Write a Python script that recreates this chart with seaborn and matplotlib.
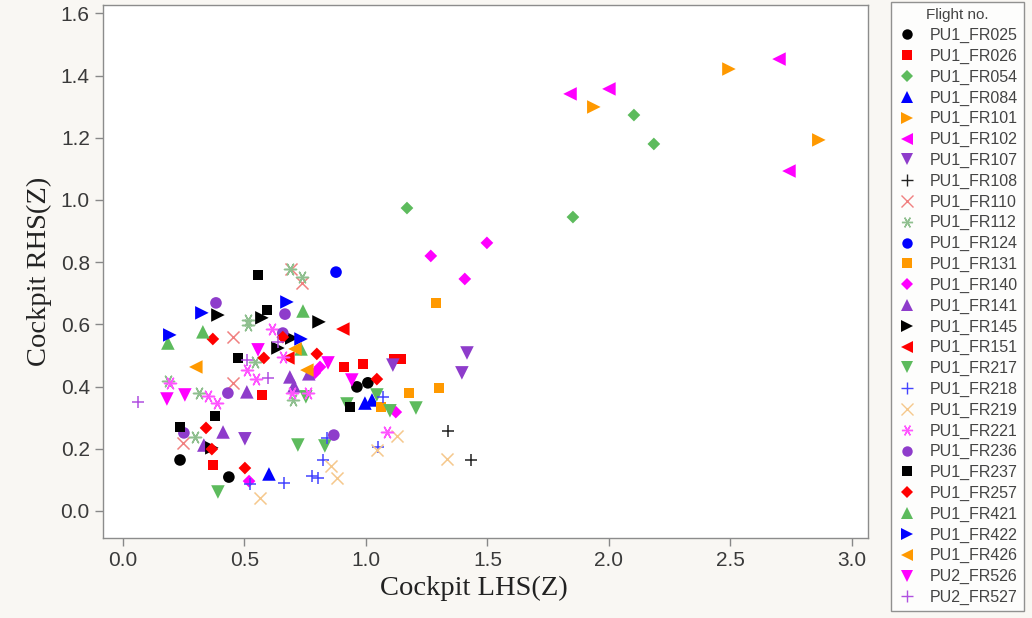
import matplotlib
matplotlib.use("Agg")
import matplotlib.pyplot as plt
import seaborn as sns
import pandas as pd
from matplotlib.lines import Line2D

# ---------------- data ----------------
FR025_x = [0.235, 0.436, 0.963, 1.008]
FR025_y = [0.164, 0.109, 0.399, 0.412]
FR026_x = [0.370, 0.572, 0.909, 0.988, 1.115, 1.144]
FR026_y = [0.148, 0.373, 0.463, 0.473, 0.489, 0.489]
FR054_x = [1.169, 1.852, 2.103, 2.185]
FR054_y = [0.974, 0.945, 1.273, 1.180]
FR084_x = [0.601, 0.996, 1.025]
FR084_y = [0.119, 0.347, 0.357]
FR101_x = [1.938, 2.494, 2.864]
FR101_y = [1.299, 1.421, 1.193]
FR102_x = [1.840, 2.000, 2.700, 2.741]
FR102_y = [1.341, 1.357, 1.453, 1.093]
FR107_x = [0.502, 1.111, 1.416, 1.395]
FR107_y = [0.232, 0.469, 0.508, 0.444]
FR108_x = [1.337, 1.432]
FR108_y = [0.257, 0.164]
FR110_x = [0.453, 0.453, 0.247, 0.691, 0.737]
FR110_y = [0.559, 0.412, 0.219, 0.778, 0.733]
FR112_x = [0.514, 0.687, 0.737, 0.296, 0.185, 0.313, 0.514, 0.543, 0.700]
FR112_y = [0.614, 0.778, 0.752, 0.238, 0.418, 0.379, 0.598, 0.479, 0.357]
FR124_x = [0.877]
FR124_y = [0.768]
FR131_x = [1.288, 1.177, 1.300, 1.062]
FR131_y = [0.669, 0.379, 0.395, 0.334]
FR140_x = [1.267, 1.498, 1.407, 1.123, 0.519, 0.811, 0.790]
FR140_y = [0.820, 0.862, 0.746, 0.318, 0.096, 0.463, 0.444]
FR141_x = [0.510, 0.412, 0.333, 0.687, 0.704, 0.765]
FR141_y = [0.383, 0.254, 0.212, 0.431, 0.402, 0.441]
FR145_x = [0.391, 0.572, 0.807, 0.695, 0.638, 0.366]
FR145_y = [0.630, 0.621, 0.608, 0.556, 0.524, 0.203]
FR151_x = [0.905, 0.679]
FR151_y = [0.585, 0.492]
FR217_x = [0.391, 0.720, 0.831, 0.753, 0.922, 1.045, 1.099, 1.206]
FR217_y = [0.061, 0.212, 0.209, 0.367, 0.344, 0.373, 0.322, 0.331]
FR218_x = [0.663, 0.778, 0.802, 0.823, 0.840, 1.070, 1.049, 0.523]
FR218_y = [0.090, 0.113, 0.106, 0.164, 0.235, 0.367, 0.206, 0.087]
FR219_x = [0.564, 0.856, 0.881, 1.128, 1.045, 1.333]
FR219_y = [0.042, 0.145, 0.106, 0.241, 0.196, 0.167]
FR221_x = [1.086, 0.350, 0.510, 0.613, 0.547, 0.193, 0.387, 0.658, 0.695, 0.761]
FR221_y = [0.254, 0.370, 0.453, 0.585, 0.424, 0.412, 0.347, 0.495, 0.379, 0.379]
FR236_x = [0.383, 0.667, 0.658, 0.432, 0.251, 0.868]
FR236_y = [0.669, 0.633, 0.572, 0.379, 0.251, 0.244]
FR237_x = [0.556, 0.593, 0.473, 0.379, 0.235, 0.934]
FR237_y = [0.759, 0.646, 0.492, 0.305, 0.270, 0.334]
FR257_x = [0.370, 0.580, 0.342, 0.366, 0.502, 0.658, 0.798, 1.045]
FR257_y = [0.553, 0.492, 0.267, 0.199, 0.138, 0.559, 0.505, 0.424]
FR421_x = [0.185, 0.329, 0.741, 0.733]
FR421_y = [0.540, 0.576, 0.643, 0.521]
FR422_x = [0.193, 0.325, 0.675, 0.733]
FR422_y = [0.566, 0.637, 0.672, 0.553]
FR426_x = [0.300, 0.708, 0.757]
FR426_y = [0.463, 0.521, 0.453]
FR526_x = [0.556, 0.181, 0.255, 0.844, 0.942]
FR526_y = [0.518, 0.360, 0.373, 0.476, 0.421]
FR527_x = [0.062, 0.510, 0.597, 0.638]
FR527_y = [0.350, 0.486, 0.428, 0.543]

flights = ["PU1_FR025", "PU1_FR026", "PU1_FR054", "PU1_FR084", "PU1_FR101",
           "PU1_FR102", "PU1_FR107", "PU1_FR108", "PU1_FR110", "PU1_FR112",
           "PU1_FR124", "PU1_FR131", "PU1_FR140", "PU1_FR141", "PU1_FR145",
           "PU1_FR151", "PU1_FR217", "PU1_FR218", "PU1_FR219", "PU1_FR221",
           "PU1_FR236", "PU1_FR237", "PU1_FR257", "PU1_FR421", "PU1_FR422",
           "PU1_FR426", "PU2_FR526", "PU2_FR527"]
xs = [FR025_x, FR026_x, FR054_x, FR084_x, FR101_x, FR102_x, FR107_x, FR108_x,
      FR110_x, FR112_x, FR124_x, FR131_x, FR140_x, FR141_x, FR145_x, FR151_x,
      FR217_x, FR218_x, FR219_x, FR221_x, FR236_x, FR237_x, FR257_x, FR421_x,
      FR422_x, FR426_x, FR526_x, FR527_x]
ys = [FR025_y, FR026_y, FR054_y, FR084_y, FR101_y, FR102_y, FR107_y, FR108_y,
      FR110_y, FR112_y, FR124_y, FR131_y, FR140_y, FR141_y, FR145_y, FR151_y,
      FR217_y, FR218_y, FR219_y, FR221_y, FR236_y, FR237_y, FR257_y, FR421_y,
      FR422_y, FR426_y, FR526_y, FR527_y]

# ---------------- styles ----------------
BLACK, RED, GREEN, BLUE = "#000000", "#ff0000", "#5dbb5d", "#0000ff"
ORANGE, MAGENTA, PURPLE = "#ff9900", "#ff00ff", "#8e3ccb"
ASTER = (6, 2, 90)
styles = [
    ("o", BLACK, 70), ("s", RED, 55), ("D", GREEN, 42), ("^", BLUE, 95),
    (">", ORANGE, 95), ("<", MAGENTA, 95), ("v", PURPLE, 95), ("+", "#222222", 75),
    ("x", "#f08080", 75), (ASTER, "#8fbf8f", 75), ("o", BLUE, 70), ("s", ORANGE, 55),
    ("D", MAGENTA, 42), ("^", PURPLE, 95), (">", BLACK, 95), ("<", RED, 95),
    ("v", GREEN, 95), ("+", "#4444ff", 75), ("x", "#f5c88c", 75), (ASTER, "#ff55ff", 75),
    ("o", PURPLE, 70), ("s", BLACK, 55), ("D", RED, 42), ("^", GREEN, 95),
    (">", BLUE, 95), ("<", ORANGE, 95), ("v", MAGENTA, 95), ("+", "#b050e0", 75),
]

sns.set_theme(style="white")
plt.rcParams["font.family"] = ["Liberation Sans", "DejaVu Sans"]

fig = plt.figure(figsize=(10.32, 6.18), dpi=100, facecolor="#f9f7f3")
ax = fig.add_axes([0.0998, 0.1294, 0.7412, 0.8626])
ax.set_facecolor("white")

handles = []
for name, x, y, (m, c, s) in zip(flights, xs, ys, styles):
    df = pd.DataFrame({"x": x, "y": y})
    line_art = m in ("+", "x") or isinstance(m, tuple)
    if line_art:
        sns.scatterplot(data=df, x="x", y="y", marker=m, color=c, s=s,
                        linewidth=1.1, ax=ax, legend=False)
    else:
        sns.scatterplot(data=df, x="x", y="y", marker=m, color=c, s=s,
                        edgecolor="none", linewidth=0, ax=ax, legend=False)
    if line_art:
        ms = 8
    elif m in ("^", "v", "<", ">"):
        ms = 9
    elif m == "D":
        ms = 6.5
    else:
        ms = 7.5
    handles.append(Line2D([], [], linestyle="none", marker=m, color=c,
                          markerfacecolor=c, markeredgecolor=c,
                          markersize=ms,
                          markeredgewidth=0 if not line_art else 1.0,
                          label=name))

ax.set_xlim(-0.082, 3.066)
ax.set_ylim(-0.087, 1.627)
ax.set_xticks([0.0, 0.5, 1.0, 1.5, 2.0, 2.5, 3.0])
ax.set_yticks([0.0, 0.2, 0.4, 0.6, 0.8, 1.0, 1.2, 1.4, 1.6])
ax.xaxis.set_major_formatter(matplotlib.ticker.FormatStrFormatter("%.1f"))
ax.yaxis.set_major_formatter(matplotlib.ticker.FormatStrFormatter("%.1f"))
ax.tick_params(axis="both", which="major", direction="out", length=6, width=1,
               color="#888888", labelcolor="#3a3a3a", labelsize=15,
               bottom=True, left=True)
for sp in ax.spines.values():
    sp.set_color("#8c8c8c")
    sp.set_linewidth(1.0)

ax.set_xlabel("Cockpit LHS(Z)", family=["Liberation Serif"], fontsize=20.5,
              color="#222222", labelpad=4)
ax.xaxis.set_label_coords(0.485, -0.07)
ax.set_ylabel("Cockpit RHS(Z)", family=["Liberation Serif"], fontsize=20.5,
              color="#222222", labelpad=6)

leg = fig.legend(handles=handles, title="Flight no.", loc="upper left",
                 bbox_to_anchor=(0.8634, 0.9968), bbox_transform=fig.transFigure,
                 frameon=True, fancybox=False, fontsize=11.5, title_fontsize=11,
                 labelspacing=0.355, handletextpad=0.8, borderpad=0.4,
                 handlelength=1.2, borderaxespad=0)
leg.get_frame().set_edgecolor("#777777")
leg.get_frame().set_linewidth(1.0)
leg.get_frame().set_facecolor("white")
for t in leg.get_texts():
    t.set_color("#444444")
leg.get_title().set_color("#444444")

fig.savefig("out.png", dpi=100, facecolor=fig.get_facecolor())
